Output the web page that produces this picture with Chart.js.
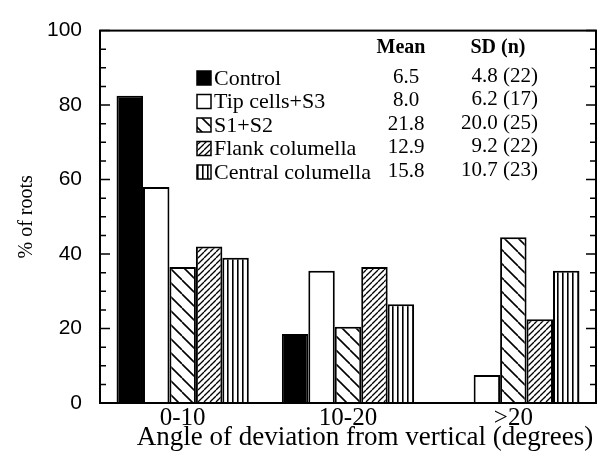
<!DOCTYPE html>
<html>
<head>
<meta charset="utf-8">
<script src="https://cdn.jsdelivr.net/npm/chart.js@4.4.1/dist/chart.umd.min.js"></script>
<style>
  html, body { margin: 0; padding: 0; background: #fff; }
  canvas { display: block; }
</style>
</head>
<body>
<canvas id="c" width="603" height="461"></canvas>
<script>
// ---- data ----
const categories = ['0-10', '10-20', '>20'];
const seriesNames = ['Control', 'Tip cells+S3', 'S1+S2', 'Flank columella', 'Central columella'];
const control = [82.5, 18.5, 0];
const tipCells = [58, 35.5, 7.5];
const s1s2 = [36.5, 20.5, 44.5];
const flank = [42, 36.5, 22.5];
const central = [39, 26.5, 35.5];
const means = ['6.5', '8.0', '21.8', '12.9', '15.8'];
const sdN = ['4.8 (22)', '6.2 (17)', '20.0 (25)', '9.2 (22)', '10.7 (23)'];
const xTitle = 'Angle of deviation from vertical (degrees)';
const yMajorTicks = [0, 20, 40, 60, 80, 100];
const yMinorStep = 5;

// ---- fill patterns ----
function makePattern(kind) {
  const c = document.createElement('canvas');
  const ctx = c.getContext('2d');
  let s;
  if (kind === 'back') s = 14;
  else if (kind === 'fwd') s = 6;
  else s = 5;
  c.width = s; c.height = s;
  ctx.fillStyle = '#fff';
  ctx.fillRect(0, 0, s, s);
  ctx.strokeStyle = '#000';
  ctx.fillStyle = '#000';
  if (kind === 'back') {
    ctx.lineWidth = 1.6;
    for (const o of [-s, 0, s]) { ctx.beginPath(); ctx.moveTo(o, 0); ctx.lineTo(o + s, s); ctx.stroke(); }
  } else if (kind === 'fwd') {
    ctx.lineWidth = 1.3;
    for (const o of [-s, 0, s]) { ctx.beginPath(); ctx.moveTo(o, s); ctx.lineTo(o + s, 0); ctx.stroke(); }
  } else {
    ctx.fillRect(2, 0, 1.6, s);
  }
  return ctx.createPattern(c, 'repeat');
}
const fills = ['#000', '#fff', makePattern('back'), makePattern('fwd'), makePattern('vert')];
const seriesData = [control, tipCells, s1s2, flank, central];

const serif = "'Liberation Serif', 'Times New Roman', serif";
const sans = "'Liberation Sans', Arial, sans-serif";

const framePlugin = {
  id: 'framePlugin',
  afterDraw(chart) {
    const { ctx, chartArea: a } = chart;
    const y = chart.scales.y;
    ctx.save();
    ctx.strokeStyle = '#000';
    ctx.lineWidth = 2;
    ctx.strokeRect(a.left, a.top, a.right - a.left, a.bottom - a.top);
    ctx.lineWidth = 1.5;
    for (let v = y.min; v <= y.max; v += yMinorStep) {
      const py = y.getPixelForValue(v);
      const len = yMajorTicks.includes(v) ? 10 : 6;
      ctx.beginPath();
      ctx.moveTo(a.left, py); ctx.lineTo(a.left + len, py);
      ctx.moveTo(a.right, py); ctx.lineTo(a.right - len, py);
      ctx.stroke();
    }
    // x-axis title (slightly right of centre, as in the original)
    ctx.fillStyle = '#000';
    ctx.textBaseline = 'middle';
    ctx.textAlign = 'center';
    ctx.font = '27px ' + serif;
    ctx.fillText(xTitle, (a.left + a.right) / 2 + 17, chart.height - 23);
    // legend + stats table
    const rowY = i => 78 + i * 23.5;
    ctx.font = 'bold 20px ' + serif;
    ctx.fillText('Mean', 401, 48);
    ctx.fillText('SD (n)', 498, 48);
    for (let i = 0; i < seriesNames.length; i++) {
      const yy = rowY(i);
      ctx.fillStyle = fills[i];
      ctx.fillRect(197, yy - 7, 14, 14);
      ctx.strokeStyle = '#000';
      ctx.lineWidth = 1.5;
      ctx.strokeRect(197, yy - 7, 14, 14);
      ctx.fillStyle = '#000';
      ctx.font = '22px ' + serif;
      ctx.textAlign = 'left';
      ctx.fillText(seriesNames[i], 214, yy + 1);
      ctx.font = '21px ' + serif;
      ctx.textAlign = 'center';
      ctx.fillText(means[i], 406, yy - 1);
      ctx.textAlign = 'right';
      ctx.fillText(sdN[i], 538, yy - 2);
    }
    ctx.restore();
  }
};

new Chart(document.getElementById('c'), {
  type: 'bar',
  data: {
    labels: categories,
    datasets: seriesNames.map((n, i) => ({
      label: n,
      data: seriesData[i],
      backgroundColor: fills[i],
      borderColor: '#000',
      borderWidth: 2,
      categoryPercentage: 0.8,
      barPercentage: 1.0
    }))
  },
  options: {
    responsive: false,
    animation: false,
    devicePixelRatio: 1,
    layout: { padding: { top: 19, right: 7, left: 0, bottom: 0 } },
    plugins: { legend: { display: false }, tooltip: { enabled: false } },
    scales: {
      x: {
        grid: { display: false, drawTicks: false },
        border: { display: false },
        ticks: { color: '#000', font: { family: serif, size: 25 }, padding: 0 },
        title: { display: false },
        afterFit(scale) { scale.height = 58; }
      },
      y: {
        min: 0, max: 100,
        grid: { display: false, drawTicks: false },
        border: { display: false },
        ticks: { stepSize: 20, color: '#000', font: { family: sans, size: 21 }, padding: 18 },
        title: { display: true, text: '% of roots', color: '#000',
                 font: { family: serif, size: 20 }, padding: { top: 15, bottom: 0 } },
        afterFit(scale) { scale.width = 100; }
      }
    }
  },
  plugins: [framePlugin]
});
</script>
</body>
</html>
